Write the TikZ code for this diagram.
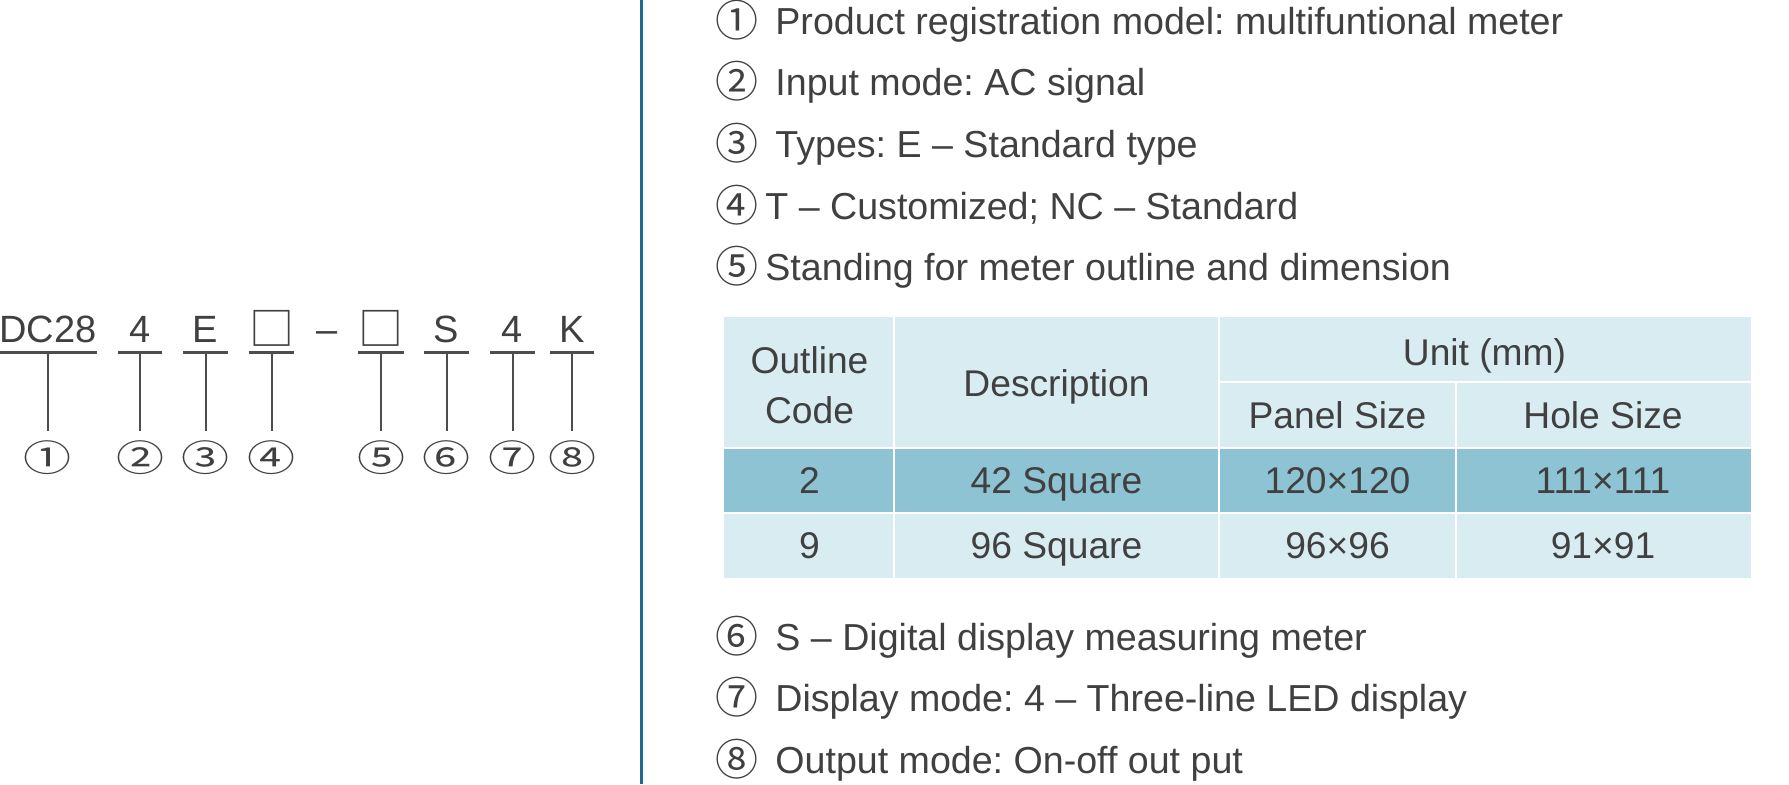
\documentclass[tikz,border=0pt]{standalone}
\usepackage{graphicx}
\usepackage{fontspec}
\setmainfont{Liberation Sans}
\newfontfamily\cjk{Noto Sans CJK SC}
\frenchspacing

\definecolor{txtgray}{HTML}{404040}
\definecolor{rulegray}{HTML}{4D4D4D}
\definecolor{divblue}{HTML}{1F6891}
\definecolor{cellpale}{HTML}{D9ECF1}
\definecolor{celldark}{HTML}{8EC3D3}

\tikzset{
  codepart/.style={anchor=base, inner sep=0pt, minimum width=22pt, text depth=5pt,
    text=txtgray, font=\fontsize{19}{22}\selectfont},
  codebox/.style={codepart, font=\cjk\fontsize{22.5}{24}\selectfont},
  codenum/.style={inner xsep=0pt, inner ysep=5pt, text=txtgray, font=\cjk\fontsize{24}{26}\selectfont},
  itemnum/.style={inner sep=0pt, text=txtgray, font=\cjk\fontsize{21.5}{24}\selectfont},
  itemtext/.style={anchor=base west, inner sep=0pt, text=txtgray, font=\fontsize{18.8}{22}\selectfont},
  celltext/.style={anchor=base, inner sep=0pt, text=txtgray, font=\fontsize{18.6}{22}\selectfont},
  underline/.style={rulegray, line width=1.5pt},
  stem/.style={rulegray, line width=1pt}
}

\begin{document}
\begin{tikzpicture}[x=0.5pt,y=-0.5pt]
    \useasboundingbox (0,0) rectangle (1789,784);

    % model code
    \node[codepart, minimum width=48pt] (seg1) at (48,342) {DC28};
    \node[codepart] (seg2) at (140,342) {4};
    \node[codepart] (seg3) at (205.5,342) {E};
    \node[codebox] (seg4) at (271.5,342) {\raisebox{-1.5pt}{□}};
    \node[codepart, minimum width=0pt] (dash) at (327,342) {–};
    \node[codebox] (seg5) at (381,342) {\raisebox{-1.5pt}{□}};
    \node[codepart] (seg6) at (446.5,342) {S};
    \node[codepart] (seg7) at (512.5,342) {4};
    \node[codepart] (seg8) at (572,342) {K};

    \node[codenum] (cnum1) at (48,458) {\scalebox{1}[0.76]{①}};
    \node[codenum] (cnum2) at (140,458) {\scalebox{1}[0.76]{②}};
    \node[codenum] (cnum3) at (205.5,458) {\scalebox{1}[0.76]{③}};
    \node[codenum] (cnum4) at (271.5,458) {\scalebox{1}[0.76]{④}};
    \node[codenum] (cnum5) at (381,458) {\scalebox{1}[0.76]{⑤}};
    \node[codenum] (cnum6) at (446.5,458) {\scalebox{1}[0.76]{⑥}};
    \node[codenum] (cnum7) at (512.5,458) {\scalebox{1}[0.76]{⑦}};
    \node[codenum] (cnum8) at (572,458) {\scalebox{1}[0.76]{⑧}};

    \draw[underline] (seg1.south west) -- (seg1.south east);
    \draw[underline] (seg2.south west) -- (seg2.south east);
    \draw[underline] (seg3.south west) -- (seg3.south east);
    \draw[underline] (seg4.south west) -- (seg4.south east);
    \draw[underline] (seg5.south west) -- (seg5.south east);
    \draw[underline] (seg6.south west) -- (seg6.south east);
    \draw[underline] (seg7.south west) -- (seg7.south east);
    \draw[underline] (seg8.south west) -- (seg8.south east);

    \draw[stem] (seg1.south) -- (cnum1.north);
    \draw[stem] (seg2.south) -- (cnum2.north);
    \draw[stem] (seg3.south) -- (cnum3.north);
    \draw[stem] (seg4.south) -- (cnum4.north);
    \draw[stem] (seg5.south) -- (cnum5.north);
    \draw[stem] (seg6.south) -- (cnum6.north);
    \draw[stem] (seg7.south) -- (cnum7.north);
    \draw[stem] (seg8.south) -- (cnum8.north);

    % divider
    \draw[divblue, line width=1.5pt] (641.5,0) -- (641.5,784);

    % explanations
    \node[itemnum] (inum1) at (737,20) {①};
    \node[itemtext] (itxt1) at (775,34.5) {Product registration model: multifuntional meter};
    \node[itemnum] (inum2) at (737,81) {②};
    \node[itemtext] (itxt2) at (775,95.5) {Input mode: AC signal};
    \node[itemnum] (inum3) at (737,143) {③};
    \node[itemtext] (itxt3) at (775,157.5) {Types: E – Standard type};
    \node[itemnum] (inum4) at (737,205) {④};
    \node[itemtext] (itxt4) at (765,219.5) {T – Customized; NC – Standard};
    \node[itemnum] (inum5) at (737,266) {⑤};
    \node[itemtext] (itxt5) at (765,280.5) {Standing for meter outline and dimension};
    \node[itemnum] (inum6) at (737,636) {⑥};
    \node[itemtext] (itxt6) at (775,650) {S – Digital display measuring meter};
    \node[itemnum] (inum7) at (737,697) {⑦};
    \node[itemtext] (itxt7) at (775,711.5) {Display mode: 4 – Three-line LED display};
    \node[itemnum] (inum8) at (737,759) {⑧};
    \node[itemtext] (itxt8) at (775,773.5) {Output mode: On-off out put};

    % outline table
    \fill[cellpale] (724,317) rectangle (1751,578);
    \fill[celldark] (724,448) rectangle (1751,513);
    \draw[white, line width=1.25pt] (1219,382) -- (1751,382);
    \draw[white, line width=1.25pt] (724,448) -- (1751,448);
    \draw[white, line width=1.25pt] (724,513) -- (1751,513);
    \draw[white, line width=1.25pt] (894,317) -- (894,578);
    \draw[white, line width=1.25pt] (1219,317) -- (1219,578);
    \draw[white, line width=1.25pt] (1456,382) -- (1456,578);

    \node[celltext] (hcode1) at (809.5,373) {Outline};
    \node[celltext] (hcode2) at (809.5,423) {Code};
    \node[celltext] (hdesc) at (1056.5,396) {Description};
    \node[celltext] (hunit) at (1484.5,365) {Unit (mm)};
    \node[celltext] (hpanel) at (1337.5,428) {Panel Size};
    \node[celltext] (hhole) at (1603,428) {Hole Size};
    \node[celltext] (code2) at (809.5,493) {2};
    \node[celltext] (desc2) at (1056.5,493) {42 Square};
    \node[celltext] (panel2) at (1337.5,493) {120×120};
    \node[celltext] (hole2) at (1603,493) {111×111};
    \node[celltext] (code9) at (809.5,558) {9};
    \node[celltext] (desc9) at (1056.5,558) {96 Square};
    \node[celltext] (panel9) at (1337.5,558) {96×96};
    \node[celltext] (hole9) at (1603,558) {91×91};
  \end{tikzpicture}
\end{document}
